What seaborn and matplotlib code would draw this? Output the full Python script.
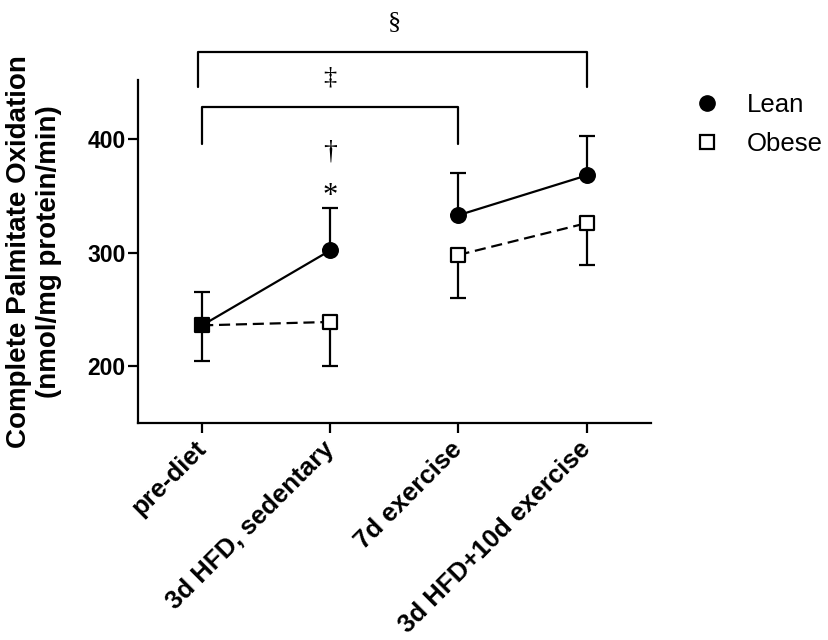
import numpy as np
import pandas as pd
import matplotlib
matplotlib.use("Agg")
import matplotlib.pyplot as plt
import seaborn as sns
from matplotlib.lines import Line2D

categories = ["pre-diet", "3d HFD, sedentary", "7d exercise", "3d HFD+10d exercise"]
segments = [0, 0, 1, 1]
lean_mean = [236, 302, 333, 368]
lean_err = [29, 37, 37, 35]
obese_mean = [236, 239, 298, 326]
obese_err = [31, 39, 38, 37]

sns.set_theme(style="ticks")
plt.rcParams['font.family'] = ['Liberation Sans', 'DejaVu Sans']
plt.rcParams['text.color'] = 'black'
plt.rcParams['axes.labelcolor'] = 'black'
plt.rcParams['xtick.color'] = 'black'
plt.rcParams['ytick.color'] = 'black'

fig = plt.figure(figsize=(8.29, 6.4), dpi=100)
ax = fig.add_axes([0.1665, 0.339, 0.6185, 0.536])

df = pd.DataFrame({
    "cond": categories * 2,
    "val": lean_mean + obese_mean,
    "group": ["Lean"] * 4 + ["Obese"] * 4,
    "seg": segments * 2,
})
sns.lineplot(data=df, x="cond", y="val", hue="group", style="group", units="seg",
             estimator=None,
             palette={"Lean": "black", "Obese": "black"},
             dashes={"Lean": "", "Obese": (5, 2.6)}, linewidth=1.6,
             legend=False, ax=ax, sort=False, zorder=2)

xs = np.arange(len(categories))
ax.errorbar(xs, lean_mean, yerr=[np.zeros(4), lean_err], fmt="none",
            ecolor="black", elinewidth=1.6, capsize=5.5, capthick=1.6, zorder=1)
ax.errorbar(xs, obese_mean, yerr=[obese_err, np.zeros(4)], fmt="none",
            ecolor="black", elinewidth=1.6, capsize=5.5, capthick=1.6, zorder=1)

sub = df[df["cond"] != "pre-diet"]
sns.scatterplot(data=sub[sub.group == "Lean"], x="cond", y="val", marker="o",
                s=125, color="black", edgecolor="black", linewidth=1.0, ax=ax,
                legend=False, zorder=4)
sns.scatterplot(data=sub[sub.group == "Obese"], x="cond", y="val", marker="s",
                s=100, color="white", edgecolor="black", linewidth=1.6, ax=ax,
                legend=False, zorder=4)
sns.scatterplot(data=df[(df.cond == "pre-diet") & (df.group == "Lean")], x="cond",
                y="val", marker="s", s=100, color="black", edgecolor="black",
                linewidth=1.6, ax=ax, legend=False, zorder=5)

ax.set_xlim(-0.5, 3.5)
ax.set_ylim(150, 452)
ax.set_yticks([200, 300, 400])
ax.set_xticks(xs)
ax.set_xticklabels(categories, rotation=45, ha="right", va="center",
                   rotation_mode="anchor", fontsize=18.5, fontweight="bold")
for lab in ax.get_yticklabels():
    lab.set_fontsize(16.5)
    lab.set_fontweight("bold")
ax.tick_params(axis="both", width=1.6, length=7, color="black", pad=2)
ax.tick_params(axis="x", pad=9)
ax.set_xlabel("")
ax.set_ylabel("Complete Palmitate Oxidation\n(nmol/mg protein/min)",
              fontsize=20, fontweight="bold", labelpad=18)
for s in ["top", "right"]:
    ax.spines[s].set_visible(False)
for s in ["left", "bottom"]:
    ax.spines[s].set_linewidth(1.6)
    ax.spines[s].set_color("black")

# significance brackets
kw = dict(color="black", lw=1.6, clip_on=False)
ax.plot([-0.03, -0.03, 3.0, 3.0], [446, 477, 477, 446], **kw)
ax.plot([0.0, 0.0, 2.0, 2.0], [396, 428, 428, 396], **kw)
serif = ['Liberation Serif', 'DejaVu Serif']
ax.text(1.5, 503, "§", ha="center", va="center", fontsize=19, family=serif, clip_on=False)
ax.text(1.0, 454, "‡", ha="center", va="center", fontsize=19, family=serif, clip_on=False)
ax.text(1.0, 389, "†", ha="center", va="center", fontsize=20, family=serif)
ax.text(1.0, 349, "*", ha="center", va="center", fontsize=22, family=serif)

handles = [
    Line2D([], [], ls="none", marker="o", ms=11, mfc="black", mec="black"),
    Line2D([], [], ls="none", marker="s", ms=9.5, mfc="white", mec="black", mew=1.6),
]
fig.legend(handles, ["Lean", "Obese"], loc="upper left", bbox_to_anchor=(0.822, 0.855),
           frameon=False, fontsize=18.5, handletextpad=0.55, labelspacing=0.6,
           borderaxespad=0, borderpad=0)

fig.savefig("out.png", dpi=100)
